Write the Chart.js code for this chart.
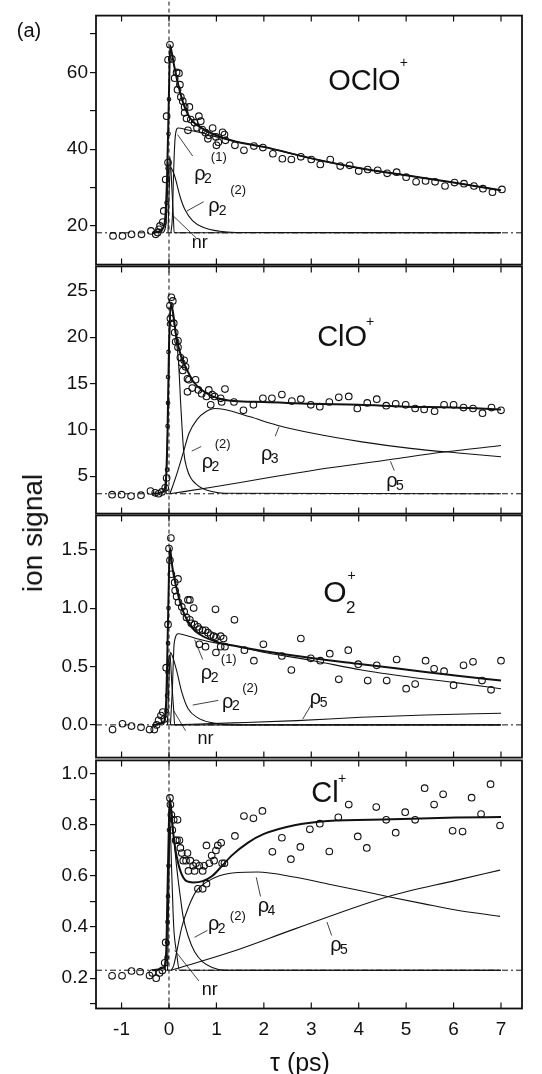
<!DOCTYPE html>
<html>
<head>
<meta charset="utf-8">
<script src="https://cdn.jsdelivr.net/npm/chart.js@4.4.1/dist/chart.umd.min.js"></script>
<style>
  body { margin: 0; background: #fff; }
  #fig { position: relative; width: 542px; height: 1074px; overflow: hidden; background: #fff;
         font-family: "Liberation Sans", Arial, sans-serif; color: #111; }
  #fig canvas { position: absolute; left: 0; }
  .txt { position: absolute; white-space: nowrap; line-height: 1; transform: translate(-50%, -50%); }
</style>
</head>
<body>
<div id="fig">
  <canvas id="c1"></canvas>
  <canvas id="c2"></canvas>
  <canvas id="c3"></canvas>
  <canvas id="c4"></canvas>
  <div class="txt" style="left:29px;top:30px;font-size:20px;">(a)</div>
  <div class="txt" style="left:33px;top:533px;font-size:28px;transform:translate(-50%,-50%) rotate(-90deg);">ion signal</div>
  <div class="txt" style="left:300px;top:1062px;font-size:25px;">τ (ps)</div>
</div>
<script>
// delay axis, shared by all panels
const tauTicks = [-1, 0, 1, 2, 3, 4, 5, 6, 7];

// ---- OClO+ panel ----
const ocloBase = 18.2;
const ocloMajor = [20, 40, 60];
const ocloMinor = [30, 50, 70];
const ocloT = [-1.18,-0.98,-0.79,-0.58,-0.38,-0.28,-0.24,-0.21,-0.19,-0.13,-0.11,-0.07,-0.05,-0.02,-0.02,0.02,0.06,0.12,0.16,0.18,0.21,0.23,0.25,0.29,0.33,0.33,0.37,0.40,0.43,0.46,0.54,0.59,0.63,0.67,0.70,0.77,0.82,0.84,0.92,0.99,1.00,1.04,1.13,1.17,1.19,1.39,1.58,1.79,1.98,2.19,2.39,2.58,2.78,3.00,3.19,3.40,3.61,3.81,4.00,4.19,4.40,4.60,4.80,5.00,5.21,5.41,5.61,5.82,6.02,6.22,6.43,6.62,6.82,7.02];
const ocloSig = [17.4,17.4,17.8,17.8,18.7,17.8,18.3,19.1,20.0,21.0,23.9,32.1,48.6,36.5,63.3,67.2,63.5,58.5,60.0,55.5,59.8,56.8,53.6,52.5,51.0,49.5,48.0,44.9,51.0,47.7,46.9,45.6,48.6,47.3,45.1,44.3,42.7,43.6,45.5,43.2,41.0,41.8,44.4,43.8,42.3,41.0,39.7,40.8,40.4,38.8,37.5,37.3,38.0,37.3,36.0,37.3,35.6,35.8,34.3,34.7,34.5,33.7,34.0,32.7,31.5,31.7,31.5,30.4,31.3,31.0,30.4,29.7,28.8,29.5];
const ocloRiseT = [-0.05, -0.03, -0.01, 0.00];
const ocloRiseSig = [26, 35, 44, 53];
const ocloFitT = [-0.35,-0.15,-0.08,-0.04,0.00,0.025,0.06,0.12,0.20,0.30,0.45,0.70,1.00,1.40,2.00,3.00,4.00,5.00,6.00,7.00];
const ocloFit = [18.2,19.0,22.0,33.0,55.0,67.0,65.0,61.0,56.5,52.0,48.0,45.4,43.6,42.0,40.6,37.6,35.1,33.2,31.3,29.3];
const oclo21T = [0.04,0.07,0.10,0.13,0.19,0.40,0.70,1.00,1.40,2.00,3.00,4.00,5.00,6.00,7.00];
const oclo21 = [18.2,22.0,35.0,43.0,45.5,45.0,44.2,43.2,42.0,40.6,37.6,35.1,33.2,31.3,29.3];
const oclo22T = [-0.02,0.00,0.03,0.06,0.12,0.23,0.33,0.50,0.73,1.07,1.40,7.00];
const oclo22 = [18.2,28.0,35.3,34.8,33.0,27.8,24.4,21.3,19.6,18.6,18.3,18.2];
const ocloNrT = [-0.12,-0.06,-0.02,0.02,0.06,0.09,0.11,7.00];
const ocloNr = [18.2,21.0,32.0,38.0,30.0,23.0,18.2,18.2];

// ---- ClO+ panel ----
const cloBase = 3.1;
const cloMajor = [5, 10, 15, 20, 25];
const cloMinor = [];
const cloT = [-1.20,-1.00,-0.80,-0.59,-0.39,-0.29,-0.22,-0.15,-0.08,-0.05,0.02,0.05,0.08,0.03,0.10,0.12,0.14,0.19,0.19,0.24,0.27,0.32,0.29,0.35,0.39,0.42,0.56,0.39,0.49,0.62,0.69,0.79,0.84,0.91,0.88,0.96,1.09,1.18,1.11,1.37,1.57,1.78,1.98,2.17,2.38,2.59,2.78,2.99,3.18,3.38,3.58,3.79,3.97,4.18,4.38,4.58,4.78,4.99,5.19,5.38,5.60,5.80,6.00,6.21,6.41,6.61,6.80,7.00];
const cloSig = [3.0,3.0,2.85,2.95,3.4,3.2,3.1,3.3,3.75,4.8,23.4,24.3,23.9,22.0,21.5,20.5,19.5,19.6,18.9,17.8,17.2,17.5,16.4,16.8,15.5,15.4,15.4,14.1,14.5,14.3,13.9,13.6,14.3,13.8,12.7,13.6,13.4,14.4,13.0,13.0,12.1,12.7,13.4,13.4,13.8,13.1,13.3,12.7,12.5,13.0,13.5,13.6,12.3,12.9,13.3,12.6,12.8,12.7,12.3,12.2,12.0,12.7,12.7,12.4,12.3,11.8,12.4,12.1];
const cloRiseT = [-0.04,-0.03,-0.02,-0.02,-0.01,0.00];
const cloRiseSig = [5.7,10.4,12.9,15.7,18.4,21.4];
const cloFitT = [-0.35,-0.12,-0.06,-0.03,0.00,0.04,0.08,0.15,0.25,0.35,0.50,0.69,1.03,1.37,2.00,3.00,4.00,5.00,6.00,7.00];
const cloFit = [3.1,3.3,5.0,10.0,19.0,23.6,22.8,20.2,18.0,16.8,15.3,14.3,13.4,13.1,13.0,12.8,12.7,12.5,12.4,12.2];
const clo22T = [-0.06,-0.02,0.02,0.05,0.10,0.15,0.20,0.25,0.31,0.38,0.46,0.56,0.70,0.90,1.17,7.00];
const clo22 = [3.1,12.0,22.0,23.4,21.8,19.8,17.4,12.5,7.7,5.8,4.8,4.2,3.7,3.35,3.15,3.1];
const clo3T = [0.02,0.15,0.31,0.42,0.59,0.79,0.96,1.17,1.71,2.28,3.06,4.07,5.09,6.10,7.00];
const clo3 = [3.1,5.0,7.7,9.6,11.1,12.0,12.3,12.2,11.4,10.5,9.6,8.7,8.0,7.5,7.1];
const clo5T = [0.02,0.90,2.05,3.40,4.67,5.80,7.00];
const clo5 = [3.1,3.8,4.8,5.9,6.8,7.6,8.3];

// ---- O2+ panel ----
const o2Base = 0.0;
const o2Major = [0.0, 0.5, 1.0, 1.5];
const o2Minor = [];
const o2T = [-1.19,-0.98,-0.79,-0.59,-0.41,-0.31,-0.26,-0.22,-0.17,-0.13,-0.10,-0.06,-0.02,0.00,0.02,0.04,0.05,0.12,0.19,0.13,0.16,0.20,0.27,0.40,0.44,0.52,0.32,0.37,0.44,0.47,0.54,0.61,0.64,0.71,0.77,0.82,0.88,0.94,0.99,1.09,1.15,0.64,0.77,0.99,1.09,1.18,0.98,1.38,1.59,1.79,1.99,2.38,2.58,2.78,2.99,3.19,3.39,3.58,3.78,3.99,4.19,4.38,4.59,4.80,5.00,5.19,5.41,5.59,5.80,6.00,6.21,6.41,6.60,6.79,7.00];
const o2Sig = [-0.04,0.01,-0.01,-0.02,-0.04,-0.04,0.00,0.04,0.08,0.11,0.05,0.49,0.86,1.51,1.41,1.60,1.29,1.22,1.25,1.15,1.10,1.05,1.01,1.07,1.07,1.00,0.97,0.92,0.90,0.87,0.86,0.84,0.82,0.81,0.81,0.79,0.77,0.76,0.75,0.76,0.74,0.69,0.67,0.62,0.67,0.67,0.99,0.90,0.64,0.55,0.69,0.59,0.47,0.74,0.57,0.55,0.61,0.39,0.64,0.52,0.38,0.51,0.38,0.56,0.31,0.35,0.55,0.48,0.46,0.34,0.51,0.54,0.38,0.30,0.55];
const o2RiseT = [-0.05,-0.04,-0.03,-0.02,-0.01];
const o2RiseSig = [0.12,0.25,0.45,0.70,1.00];
const o2FitT = [-0.35,-0.12,-0.06,-0.03,0.00,0.02,0.06,0.17,0.30,0.47,0.67,1.01,1.35,2.02,3.04,4.06,5.07,6.08,7.00];
const o2Fit = [0.0,0.02,0.2,0.7,1.3,1.52,1.38,1.15,0.97,0.84,0.77,0.71,0.68,0.63,0.57,0.52,0.47,0.42,0.38];
const o221T = [0.03,0.07,0.11,0.20,0.33,0.57,1.01,1.35,2.02,3.04,4.06,5.07,6.08,7.00];
const o221 = [0.0,0.3,0.7,0.78,0.77,0.74,0.70,0.68,0.62,0.55,0.47,0.41,0.36,0.31];
const o222T = [-0.03,0.00,0.03,0.08,0.17,0.27,0.40,0.61,0.88,1.30,7.00];
const o222 = [0.0,0.4,0.62,0.58,0.45,0.28,0.14,0.06,0.02,0.0,0.0];
const o25T = [0.05,1.35,2.70,4.05,5.40,7.00];
const o25 = [0.0,0.017,0.037,0.065,0.085,0.10];
const o2NrT = [-0.12,-0.06,-0.02,0.02,0.06,0.10,0.12,7.00];
const o2Nr = [0.0,0.1,0.5,0.6,0.35,0.12,0.0,0.0];

// ---- Cl+ panel ----
const clBase = 0.231;
const clMajor = [0.2, 0.4, 0.6, 0.8, 1.0];
const clMinor = [0.1, 0.3, 0.5, 0.7, 0.9];
const clT = [-1.20,-0.99,-0.79,-0.61,-0.41,-0.35,-0.27,-0.20,-0.14,-0.09,-0.07,0.02,0.03,0.05,0.07,0.10,0.18,0.14,0.17,0.22,0.24,0.27,0.30,0.39,0.36,0.45,0.51,0.57,0.64,0.71,0.74,0.79,0.85,0.90,0.95,0.99,1.03,1.10,1.12,1.17,0.41,0.54,0.61,0.71,0.79,1.39,1.58,1.78,1.97,2.18,2.38,2.57,2.77,2.97,3.18,3.38,3.57,3.79,3.98,4.17,4.37,4.58,4.78,4.98,5.19,5.39,5.59,5.78,5.98,6.19,6.38,6.58,6.78,6.98];
const clSig = [0.209,0.209,0.228,0.225,0.21,0.22,0.20,0.22,0.23,0.26,0.34,0.906,0.88,0.84,0.78,0.82,0.82,0.74,0.74,0.74,0.71,0.69,0.66,0.69,0.66,0.66,0.64,0.65,0.64,0.62,0.64,0.72,0.65,0.68,0.66,0.70,0.72,0.73,0.65,0.65,0.62,0.62,0.55,0.55,0.57,0.757,0.835,0.826,0.855,0.695,0.75,0.666,0.714,0.783,0.805,0.696,0.83,0.88,0.755,0.71,0.87,0.82,0.77,0.85,0.82,0.944,0.88,0.92,0.777,0.774,0.907,0.843,0.96,0.798];
const clRiseT = [-0.05,-0.04,-0.03,-0.02,-0.01,0.00];
const clRiseSig = [0.28,0.34,0.42,0.52,0.64,0.78];
const clFitT = [-0.35,-0.12,-0.06,-0.03,0.00,0.02,0.07,0.14,0.24,0.37,0.51,0.71,0.91,1.12,1.32,1.66,1.99,2.67,3.35,4.70,6.05,7.00];
const clFit = [0.231,0.24,0.30,0.55,0.82,0.905,0.80,0.70,0.62,0.58,0.575,0.58,0.60,0.64,0.68,0.73,0.764,0.80,0.816,0.822,0.829,0.831];
const cl22T = [-0.03,0.00,0.04,0.10,0.17,0.24,0.30,0.41,0.54,0.71,0.91,1.18,7.00];
const cl22 = [0.231,0.6,0.88,0.751,0.621,0.517,0.439,0.361,0.303,0.264,0.242,0.231,0.231];
const cl4T = [0.05,0.10,0.17,0.27,0.41,0.57,0.78,1.05,1.45,1.86,2.67,3.35,4.02,4.63,5.38,6.05,6.98];
const cl4 = [0.231,0.25,0.31,0.40,0.478,0.54,0.575,0.60,0.614,0.616,0.595,0.569,0.543,0.519,0.491,0.467,0.442];
const cl5T = [0.05,1.32,2.67,4.63,6.05,6.98];
const cl5 = [0.231,0.303,0.394,0.52,0.583,0.623];
const clNrT = [-0.12,-0.06,-0.02,0.02,0.06,0.10,0.16,0.22,7.00];
const clNr = [0.231,0.26,0.6,0.8,0.6,0.4,0.3,0.231,0.231];

const ink = '#111';
const fontFamily = '"Liberation Sans", Arial, sans-serif';
Chart.defaults.font.family = fontFamily;
Chart.defaults.color = ink;

const pts = (xs, ys) => xs.map((x, i) => ({ x: x, y: ys[i] }));

function curve(xs, ys, width) {
  return { data: pts(xs, ys), showLine: true, pointRadius: 0, borderColor: ink,
           borderWidth: width, cubicInterpolationMode: 'monotone', fill: false };
}

function circles(xs, ys, r) {
  return { data: pts(xs, ys), showLine: false, pointRadius: r, pointBorderWidth: 1.1,
           pointBorderColor: ink, pointBackgroundColor: 'rgba(255,255,255,0)' };
}

// panel layout (pixels) and labels placed in data coordinates
const tauMin = -1.539, tauMax = 7.443;
const panels = [
  { id: 'c1', canvasTop: 0, canvasH: 278, padTop: 15.6, padBottom: 12.5,
    yMin: 9.92, yMax: 74.8, zeroTop: 78.9, dec: 0,
    major: ocloMajor, minor: ocloMinor, base: ocloBase,
    dots: [ocloT, ocloSig], rise: [ocloRiseT, ocloRiseSig], fit: [ocloFitT, ocloFit],
    parts: [[oclo21T, oclo21], [oclo22T, oclo22], [ocloNrT, ocloNr]],
    notes: [
      { x: 4.12, y: 57.6, t: 'OClO', s: 29 }, { x: 4.95, y: 62.4, t: '+', s: 14 },
      { x: 0.65, y: 33.3, t: 'ρ', s: 20 }, { x: 0.82, y: 32.1, t: '2', s: 14 }, { x: 1.05, y: 37.8, t: '(1)', s: 13 },
      { x: 0.95, y: 25.0, t: 'ρ', s: 20 }, { x: 1.13, y: 23.8, t: '2', s: 14 }, { x: 1.46, y: 29.3, t: '(2)', s: 13 },
      { x: 0.65, y: 15.5, t: 'nr', s: 18 }
    ],
    leaders: [[0.18, 43.8, 0.50, 38.2], [0.38, 23.9, 0.73, 26.3], [0.09, 22.6, 0.58, 16.8]] },
  { id: 'c2', canvasTop: 253, canvasH: 274, padTop: 12.5, padBottom: 12.7,
    yMin: 0.96, yMax: 27.63, zeroTop: 27.63, dec: 0,
    major: cloMajor, minor: cloMinor, base: cloBase,
    dots: [cloT, cloSig], rise: [cloRiseT, cloRiseSig], fit: [cloFitT, cloFit],
    parts: [[clo22T, clo22], [clo3T, clo3], [clo5T, clo5]],
    notes: [
      { x: 3.65, y: 19.9, t: 'ClO', s: 29 }, { x: 4.24, y: 21.6, t: '+', s: 14 },
      { x: 0.81, y: 6.5, t: 'ρ', s: 20 }, { x: 0.98, y: 6.02, t: '2', s: 14 }, { x: 1.13, y: 8.4, t: '(2)', s: 13 },
      { x: 2.06, y: 7.3, t: 'ρ', s: 20 }, { x: 2.23, y: 6.82, t: '3', s: 14 },
      { x: 4.70, y: 4.4, t: 'ρ', s: 20 }, { x: 4.87, y: 3.92, t: '5', s: 14 }
    ],
    leaders: [[0.48, 7.7, 0.68, 8.2], [2.32, 10.35, 2.24, 9.3], [4.67, 6.6, 4.75, 5.6]] },
  { id: 'c3', canvasTop: 502, canvasH: 269, padTop: 12.3, padBottom: 12,
    yMin: -0.28, yMax: 1.794, zeroTop: 1.794, dec: 1,
    major: o2Major, minor: o2Minor, base: o2Base,
    dots: [o2T, o2Sig], rise: [o2RiseT, o2RiseSig], fit: [o2FitT, o2Fit],
    parts: [[o221T, o221], [o222T, o222], [o25T, o25], [o2NrT, o2Nr]],
    notes: [
      { x: 3.50, y: 1.12, t: 'O', s: 30 }, { x: 3.83, y: 1.00, t: '2', s: 17 }, { x: 3.85, y: 1.27, t: '+', s: 14 },
      { x: 0.79, y: 0.44, t: 'ρ', s: 20 }, { x: 0.96, y: 0.40, t: '2', s: 14 }, { x: 1.26, y: 0.56, t: '(1)', s: 13 },
      { x: 1.24, y: 0.195, t: 'ρ', s: 20 }, { x: 1.41, y: 0.157, t: '2', s: 14 }, { x: 1.71, y: 0.316, t: '(2)', s: 13 },
      { x: 3.09, y: 0.23, t: 'ρ', s: 20 }, { x: 3.26, y: 0.19, t: '5', s: 14 },
      { x: 0.77, y: -0.12, t: 'nr', s: 18 }
    ],
    leaders: [[0.54, 0.73, 0.71, 0.56], [0.50, 0.17, 1.04, 0.21], [3.01, 0.18, 2.82, 0.05], [0.10, 0.12, 0.35, -0.05]] },
  { id: 'c4', canvasTop: 747, canvasH: 327, padTop: 12, padBottom: 0, axisH: 65.5,
    yMin: 0.081, yMax: 1.053, zeroTop: 1.053, dec: 1,
    major: clMajor, minor: clMinor, base: clBase, showX: true,
    dots: [clT, clSig], rise: [clRiseT, clRiseSig], fit: [clFitT, clFit],
    parts: [[cl22T, cl22], [cl4T, cl4], [cl5T, cl5], [clNrT, clNr]],
    notes: [
      { x: 3.29, y: 0.92, t: 'Cl', s: 29 }, { x: 3.65, y: 0.98, t: '+', s: 14 },
      { x: 1.99, y: 0.48, t: 'ρ', s: 20 }, { x: 2.16, y: 0.463, t: '4', s: 14 },
      { x: 3.52, y: 0.327, t: 'ρ', s: 20 }, { x: 3.69, y: 0.31, t: '5', s: 14 },
      { x: 0.94, y: 0.41, t: 'ρ', s: 20 }, { x: 1.11, y: 0.393, t: '2', s: 14 }, { x: 1.45, y: 0.44, t: '(2)', s: 13 },
      { x: 0.86, y: 0.153, t: 'nr', s: 18 }
    ],
    leaders: [[1.84, 0.595, 1.93, 0.52], [3.33, 0.42, 3.43, 0.367], [0.54, 0.36, 0.81, 0.387], [0.12, 0.309, 0.63, 0.189]] }
];

// box frame with inward tau ticks, leader lines and text labels
function decorations(p) {
  return {
    id: 'decor_' + p.id,
    afterDatasetsDraw(chart) {
      const { ctx, chartArea: a, scales: { x, y } } = chart;
      ctx.save();
      ctx.strokeStyle = ink;
      ctx.lineWidth = 0.8;
      p.leaders.forEach(l => {
        ctx.beginPath();
        ctx.moveTo(x.getPixelForValue(l[0]), y.getPixelForValue(l[1]));
        ctx.lineTo(x.getPixelForValue(l[2]), y.getPixelForValue(l[3]));
        ctx.stroke();
      });
      ctx.fillStyle = ink;
      ctx.textAlign = 'center';
      ctx.textBaseline = 'middle';
      p.notes.forEach(n => {
        ctx.font = n.s + 'px ' + fontFamily;
        ctx.fillText(n.t, x.getPixelForValue(n.x), y.getPixelForValue(n.y));
      });
      ctx.lineWidth = 1.8;
      ctx.strokeRect(a.left, a.top, a.right - a.left, a.bottom - a.top);
      ctx.lineWidth = 1.2;
      tauTicks.forEach(v => {
        const px = x.getPixelForValue(v);
        ctx.beginPath();
        ctx.moveTo(px, a.top); ctx.lineTo(px, a.top + 6);
        ctx.moveTo(px, a.bottom); ctx.lineTo(px, a.bottom - 6);
        ctx.stroke();
      });
      ctx.restore();
    }
  };
}

panels.forEach(p => {
  const canvas = document.getElementById(p.id);
  canvas.width = 542;
  canvas.height = p.canvasH;
  canvas.style.top = p.canvasTop + 'px';
  canvas.style.width = '542px';
  canvas.style.height = p.canvasH + 'px';

  const datasets = [
    { data: pts([tauMin, tauMax], [p.base, p.base]), showLine: true, pointRadius: 0,
      borderColor: ink, borderWidth: 1, borderDash: [6, 3, 2, 3] },
    { data: pts([0, 0], [p.yMin, p.zeroTop]), showLine: true, pointRadius: 0,
      borderColor: ink, borderWidth: 1, borderDash: [4, 3], clip: false }
  ];
  p.parts.forEach(c => datasets.push(curve(c[0], c[1], 1.1)));
  datasets.push(curve(p.fit[0], p.fit[1], 2));
  datasets.push(circles(p.dots[0], p.dots[1], 3.3));
  datasets.push(circles(p.rise[0], p.rise[1], 1.8));

  new Chart(canvas, {
    type: 'scatter',
    data: { datasets: datasets },
    options: {
      responsive: false,
      animation: false,
      devicePixelRatio: 1,
      layout: { padding: { top: p.padTop, bottom: p.padBottom, left: 0, right: 20 } },
      plugins: { legend: { display: false }, tooltip: { enabled: false } },
      scales: {
        x: {
          type: 'linear', min: tauMin, max: tauMax, display: !!p.showX,
          afterBuildTicks: s => { s.ticks = tauTicks.map(v => ({ value: v })); },
          afterFit: s => { if (p.axisH) s.height = p.axisH; },
          ticks: { font: { size: 19 }, padding: 10, color: ink, maxRotation: 0, callback: v => String(v) },
          grid: { display: false, drawTicks: false },
          border: { display: false }
        },
        y: {
          type: 'linear', min: p.yMin, max: p.yMax,
          afterBuildTicks: s => {
            s.ticks = p.major.concat(p.minor).sort((a, b) => a - b).map(v => ({ value: v }));
          },
          afterFit: s => { s.width = 96; },
          ticks: { font: { size: 19 }, padding: 2, color: ink,
                   callback: v => (p.major.includes(v) ? v.toFixed(p.dec) : '') },
          grid: { drawOnChartArea: false, drawTicks: true, tickLength: 6, color: ink, lineWidth: 1.2 },
          border: { display: false }
        }
      }
    },
    plugins: [decorations(p)]
  });
});
</script>
</body>
</html>
